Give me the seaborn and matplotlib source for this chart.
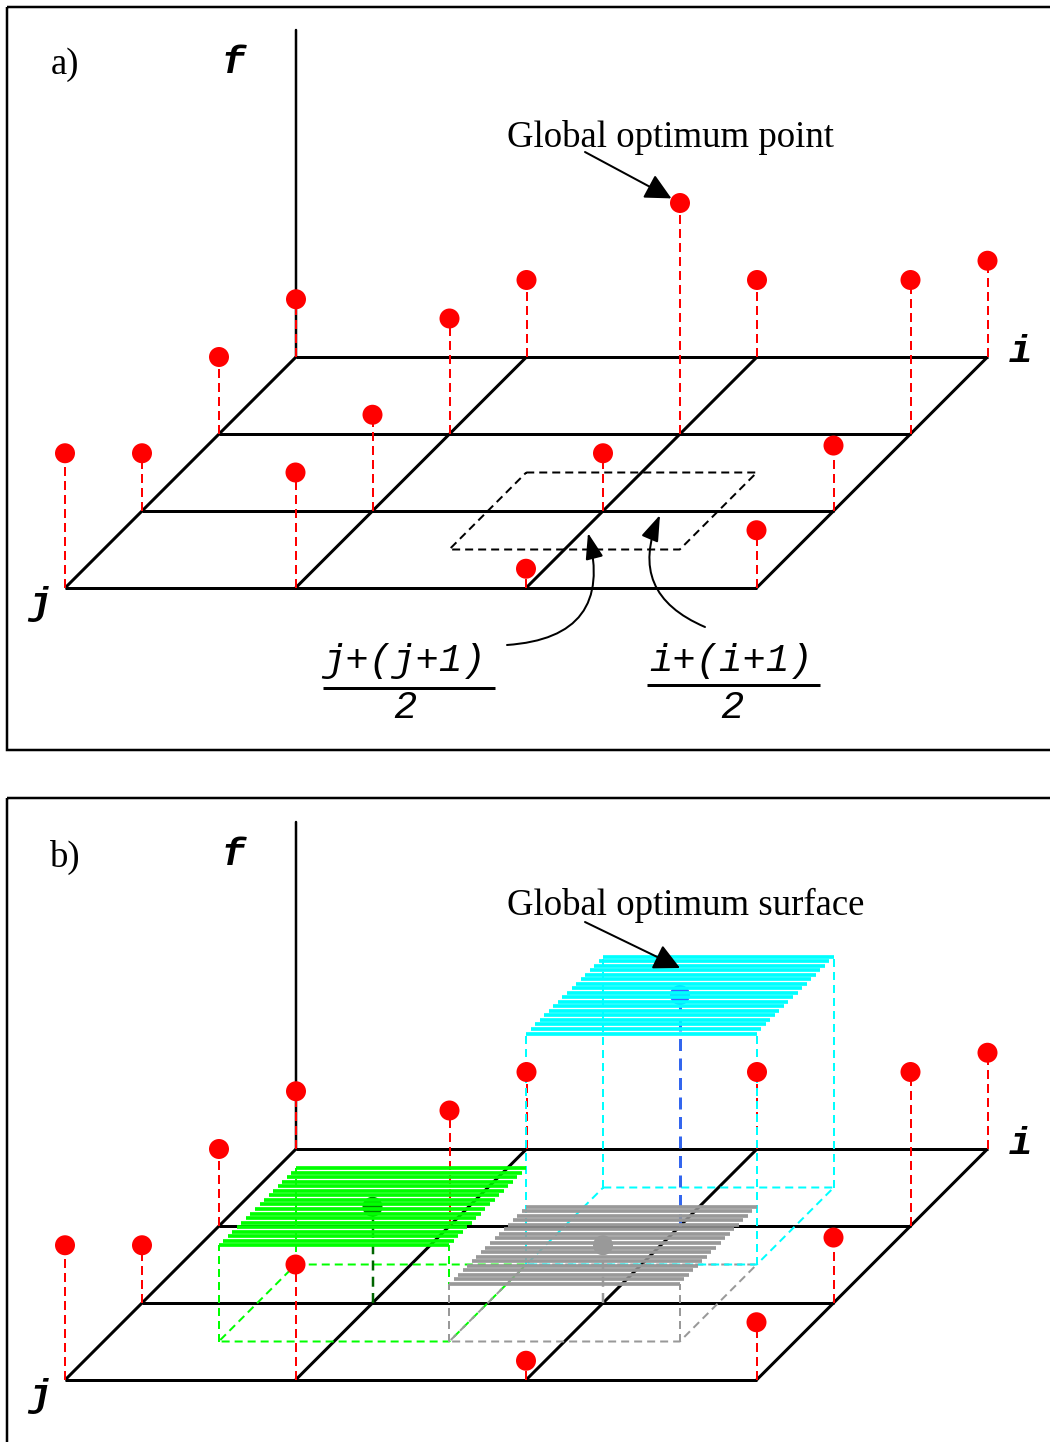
import numpy as np
import pandas as pd
import matplotlib
matplotlib.use("Agg")
import matplotlib.pyplot as plt
import seaborn as sns
from matplotlib.patches import FancyArrowPatch, Rectangle

# ---------------- data ----------------
i_idx = [0, 1, 2, 3]
j_idx = [0, 1, 2, 3]          # j = 0 is the back row, j = 3 the front row
# f(i, j): rows are j, columns are i
heights = [
    [0.75, 1.00, 1.00, 1.25],
    [1.00, 1.50, 3.00, 2.00],
    [0.75, 1.25, 0.75, 0.85],
    [1.75, 1.50, 0.25, 0.75],
]
panel_labels = ["a)", "b)"]
titles = ["Global optimum point", "Global optimum surface"]
axis_names = ["f", "i", "j"]
frac_num = ["j+(j+1)", "i+(i+1)"]
frac_den = ["2", "2"]
# panel b surfaces: centre (i, j), fill colour, centre-ball colour, stem colour
surf_i = [1, 2, 2]
surf_j = [2, 2, 1]
surf_color = ["#00ff00", "#999999", "#00ffff"]
surf_ball = ["#008800", "#999999", "#3366ff"]
surf_stem = ["#006400", "#999999", "#3366ee"]

# ---------------- layout ----------------
W, H = 1050, 1442
X0, DX, DD, FS = 296, 230.5, 77, 77
PANEL_Y0 = [357, 1149]
PANEL_BOX = [(7, 7, 743), (7, 798, 700)]
TITLE_Y = [147, 915]
ARROW_START = [(585, 152), (585, 922)]
PTPX = 72 / 100.0  # points per pixel


def P(i, j, f, y0):
    return X0 + DX * i - DD * j, y0 + DD * j - FS * f


sns.set_theme(style="white")
plt.rcParams["font.family"] = ["DejaVu Sans"]
plt.rcParams["text.color"] = "black"

fig = plt.figure(figsize=(W / 100, H / 100), dpi=100)
ax = fig.add_axes([0, 0, 1, 1])
ax.set_xlim(0, W)
ax.set_ylim(H, 0)
ax.axis("off")

serif = "Liberation Serif"
mono = "Liberation Mono"

grid_lw = 3 * PTPX
dash_lw = 2 * PTPX

for p, y0 in enumerate(PANEL_Y0):
    # frame
    bx, by, bh = PANEL_BOX[p]
    ax.add_patch(Rectangle((bx, by), 1100, bh, fill=False, ec="black",
                           lw=2.5 * PTPX, zorder=1))
    # grid
    for i in i_idx:
        (xa, ya), (xb, yb) = P(i, 0, 0, y0), P(i, 3, 0, y0)
        ax.plot([xa, xb], [ya, yb], color="black", lw=grid_lw,
                solid_capstyle="butt", zorder=2)
    for j in j_idx:
        (xa, ya), (xb, yb) = P(0, j, 0, y0), P(3, j, 0, y0)
        ax.plot([xa, xb], [ya, yb], color="black", lw=grid_lw,
                solid_capstyle="butt", zorder=2)
    # f axis
    xa, ya = P(0, 0, 0, y0)
    xb, yb = P(0, 0, 4.25, y0)
    ax.plot([xa, xb], [ya, yb], color="black", lw=2.5 * PTPX, zorder=2)

    # nodes
    skip = set()
    if p == 1:
        skip = set(zip(surf_i, surf_j))
    rows = []
    for j in j_idx:
        for i in i_idx:
            if (i, j) in skip:
                continue
            f = heights[j][i]
            x0_, yb_ = P(i, j, 0, y0)
            x1_, yt_ = P(i, j, f, y0)
            ax.plot([x0_, x1_], [yb_, yt_], color="red", lw=dash_lw,
                    dashes=(4.5, 2.5), zorder=3)
            rows.append((x1_, yt_))
    df = pd.DataFrame(rows, columns=["x", "y"])
    sns.scatterplot(data=df, x="x", y="y", ax=ax, s=(20 * PTPX) ** 2,
                    color="red", edgecolor="none", zorder=8, legend=False)

    # labels
    ax.text(65, y0 - 292, panel_labels[p], family=serif, fontsize=26.5,
            ha="center", va="center", color="black")
    ax.text(233, y0 - 294, axis_names[0], family=mono, fontsize=28,
            fontweight="bold", style="italic", ha="center", va="center", color="black")
    ax.text(1020, y0 - 5, axis_names[1], family=mono, fontsize=28,
            fontweight="bold", style="italic", ha="center", va="center", color="black")
    ax.text(40, y0 + 247, axis_names[2], family=mono, fontsize=28,
            fontweight="bold", style="italic", ha="center", va="center", color="black")
    ax.text(507, TITLE_Y[p], titles[p], family=serif, fontsize=26.5,
            ha="left", va="baseline", color="black")

# ---------- panel a extras ----------
y0 = PANEL_Y0[0]
cell = [P(1.5, 1.5, 0, y0), P(2.5, 1.5, 0, y0), P(2.5, 2.5, 0, y0),
        P(1.5, 2.5, 0, y0), P(1.5, 1.5, 0, y0)]
ax.plot([c[0] for c in cell], [c[1] for c in cell], color="black",
        lw=dash_lw, dashes=(4, 2.5), zorder=4)

# global optimum arrow
gx, gy = P(2, 1, heights[1][2], y0)
ax.add_patch(FancyArrowPatch(ARROW_START[0], (gx, gy), shrinkA=0,
                             shrinkB=7, arrowstyle="-|>,head_length=1.6,head_width=0.8",
                             mutation_scale=10, lw=2 * PTPX, color="black", zorder=9))
# curved arrows to mid points
ax.add_patch(FancyArrowPatch((507, 645), (588, 533), connectionstyle="arc3,rad=0.6",
                             arrowstyle="-|>,head_length=1.6,head_width=0.55",
                             mutation_scale=10, lw=2 * PTPX, color="black",
                             shrinkA=0, shrinkB=0, zorder=9))
ax.add_patch(FancyArrowPatch((705, 627), (660, 515), connectionstyle="arc3,rad=-0.5",
                             arrowstyle="-|>,head_length=1.6,head_width=0.55",
                             mutation_scale=10, lw=2 * PTPX, color="black",
                             shrinkA=0, shrinkB=0, zorder=9))
# fractions
for k, (cx, bar_y, x_l, x_r) in enumerate([(404, 688, 323, 495), (731, 685, 647, 820)]):
    ax.text(cx, 661, frac_num[k], family=mono, style="italic", fontsize=28,
            ha="center", va="center", color="black")
    ax.plot([x_l, x_r], [bar_y, bar_y], color="black", lw=3 * PTPX,
            solid_capstyle="butt")
    ax.text(cx + 1, 708, frac_den[k], family=mono, style="italic", fontsize=28,
            ha="center", va="center", color="black")

# ---------- panel b surfaces ----------
y0 = PANEL_Y0[1]
for k in range(len(surf_i)):
    ci, cj = surf_i[k], surf_j[k]
    f = heights[cj][ci]
    col = surf_color[k]
    # wireframe: base loop + vertical edges
    base = [(ci - .5, cj - .5), (ci + .5, cj - .5), (ci + .5, cj + .5),
            (ci - .5, cj + .5), (ci - .5, cj - .5)]
    pts = [P(a, b, 0, y0) for a, b in base]
    ax.plot([q[0] for q in pts], [q[1] for q in pts], color=col, lw=dash_lw,
            dashes=(4, 2.5), zorder=4)
    for a, b in base[:4]:
        (xa, ya), (xb, yb) = P(a, b, 0, y0), P(a, b, f, y0)
        ax.plot([xa, xb], [ya, yb], color=col, lw=dash_lw, dashes=(4, 2.5), zorder=4)
    # centre stem and ball
    (xa, ya), (xb, yb) = P(ci, cj, 0, y0), P(ci, cj, f, y0)
    ax.plot([xa, xb], [ya, yb], color=surf_stem[k],
            lw=(3 if k == 2 else 2.5) * PTPX, dashes=(4, 2.5), zorder=5)
    sns.scatterplot(x=[xb], y=[yb], ax=ax, s=(20 * PTPX) ** 2, color=surf_ball[k],
                    edgecolor="none", zorder=5, legend=False)
    # hatched surface
    for t in np.linspace(cj - 0.5, cj + 0.5, 18):
        (xa, ya), (xb, yb) = P(ci - .5, t, f, y0), P(ci + .5, t, f, y0)
        ax.plot([xa, xb], [ya, yb], color=col, lw=3.7 * PTPX,
                solid_capstyle="butt", zorder=6)

ax.add_patch(FancyArrowPatch(ARROW_START[1], (680, 968), shrinkA=0, shrinkB=0,
                             arrowstyle="-|>,head_length=1.6,head_width=0.8",
                             mutation_scale=10, lw=2 * PTPX, color="black", zorder=9))

ax.set_xlim(0, W)
ax.set_ylim(H, 0)
fig.savefig("out.png", dpi=100)
